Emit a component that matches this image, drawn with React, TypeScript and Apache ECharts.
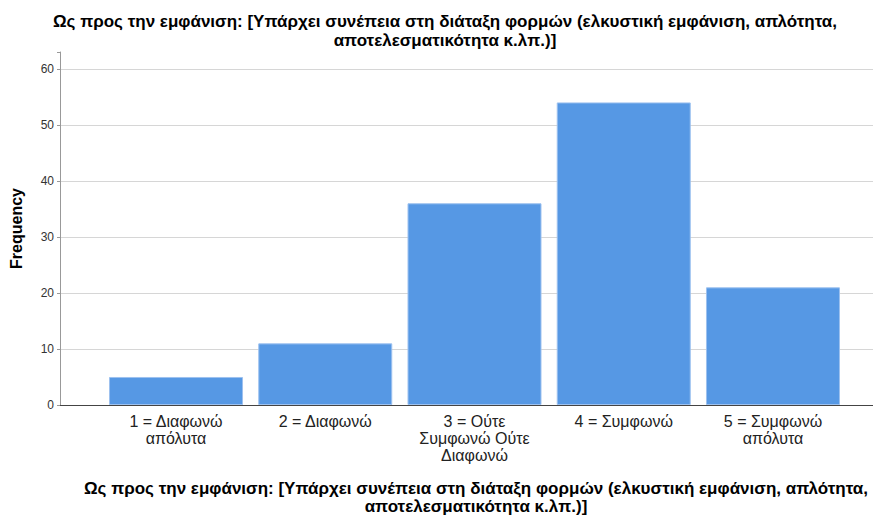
import React, { useEffect, useRef } from "react";
import * as echarts from "echarts";

const titleText =
  "Ως προς την εμφάνιση: [Υπάρχει συνέπεια στη διάταξη φορμών (ελκυστική εμφάνιση, απλότητα,\nαποτελεσματικότητα κ.λπ.)]";
const categories = [
  "1 = Διαφωνώ\nαπόλυτα",
  "2 = Διαφωνώ",
  "3 = Ούτε\nΣυμφωνώ Ούτε\nΔιαφωνώ",
  "4 = Συμφωνώ",
  "5 = Συμφωνώ\nαπόλυτα",
];
const frequencies = [5, 11, 36, 54, 21];
const yAxisName = "Frequency";
const yMin = 0;
const yMax = 63;
const yInterval = 10;

const FONT = "Liberation Sans, Arial, sans-serif";

export default function App() {
  const ref = useRef<HTMLDivElement>(null);
  useEffect(() => {
    document.body.style.margin = "0";
    const chart = echarts.init(ref.current!, null, { renderer: "svg" });
    chart.setOption({
      animation: false,
      backgroundColor: "#ffffff",
      title: {
        text: titleText,
        left: 445,
        textAlign: "center",
        top: 12,
        padding: 0,
        textStyle: {
          fontFamily: FONT,
          fontSize: 17,
          fontWeight: "bold",
          color: "#000",
          lineHeight: 19,
        },
      },
      grid: [
        { left: 60, right: 0, top: 52, bottom: 111, outerBoundsMode: "none", containLabel: false },
        { left: 101.4, right: 25.4, top: 52, bottom: 111, outerBoundsMode: "none", containLabel: false },
      ],
      xAxis: [
        {
          gridIndex: 0,
          type: "value",
          min: 0,
          max: 1,
          axisLine: { show: true, onZero: false, lineStyle: { color: "#444", width: 1 } },
          axisTick: { show: false },
          axisLabel: { show: false },
          splitLine: { show: false },
        },
        {
          gridIndex: 1,
          type: "category",
          data: categories,
          axisLine: { show: false },
          axisTick: { show: false },
          axisLabel: {
            interval: 0,
            margin: 8,
            fontFamily: FONT,
            fontSize: 16,
            lineHeight: 17,
            color: "#222",
          },
          name: titleText,
          nameLocation: "middle",
          nameGap: 74,
          nameTextStyle: {
            fontFamily: FONT,
            fontSize: 17,
            fontWeight: "bold",
            color: "#000",
            lineHeight: 18,
            padding: [0, 0, 0, 3],
          },
        },
      ],
      yAxis: [
        {
          gridIndex: 0,
          type: "value",
          min: yMin,
          max: yMax,
          interval: yInterval,
          name: yAxisName,
          nameLocation: "middle",
          nameGap: 36,
          nameTextStyle: {
            fontFamily: FONT,
            fontSize: 16,
            fontWeight: "bold",
            color: "#000",
          },
          axisLine: { show: true, onZero: false, lineStyle: { color: "#999", width: 1 } },
          axisTick: { show: true, length: 3, lineStyle: { color: "#999" } },
          axisLabel: {
            margin: 6,
            fontFamily: FONT,
            fontSize: 12,
            color: "#333",
            formatter: (v: number) => (v % yInterval === 0 ? String(v) : ""),
          },
          splitLine: {
            show: true,
            showMinLine: false,
            showMaxLine: false,
            lineStyle: { color: "#d6d6d6", width: 1 },
          },
        },
        {
          gridIndex: 1,
          type: "value",
          min: yMin,
          max: yMax,
          show: false,
          splitLine: { show: false },
        },
      ],
      series: [
        {
          type: "bar",
          xAxisIndex: 1,
          yAxisIndex: 1,
          data: frequencies,
          barWidth: 134,
          itemStyle: { color: "#5698e4", borderColor: "#9dc1ef", borderWidth: 1 },
        },
      ],
    });
    return () => chart.dispose();
  }, []);
  return <div ref={ref} style={{ width: 873, height: 516 }} />;
}
